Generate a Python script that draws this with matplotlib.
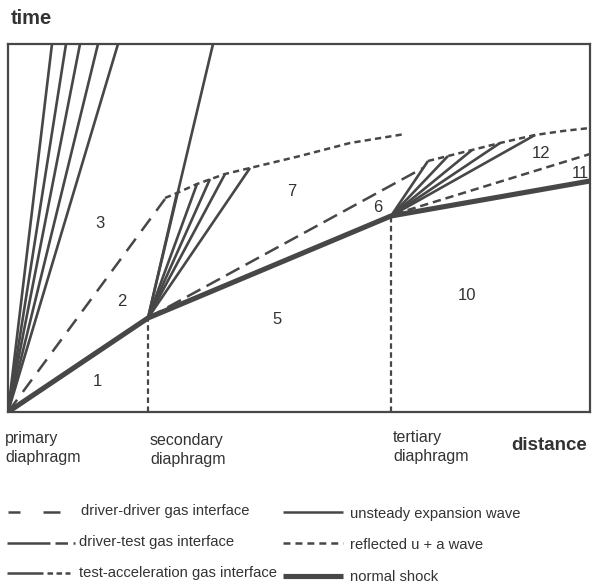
import matplotlib
matplotlib.use("Agg")
import matplotlib.pyplot as plt
from matplotlib.lines import Line2D

plt.rcParams['font.family'] = ['Liberation Sans', 'DejaVu Sans']
plt.rcParams['lines.scale_dashes'] = False

INK = '#474747'
TXT = '#333333'

# x-t diagram in arbitrary units: distance along the tube, time after primary rupture
box_x = 582
box_t = 368

secondary_x = 140
tertiary_x = 383

# normal shock path through the three diaphragms
shock_x = [0, 140, 383, 582]
shock_t = [0, 94, 196, 231]

# primary expansion fan, characteristics running out through the top
fan1_top_x = [44, 58, 72, 90, 110]

# driver-driver gas interface
dd_x = [0, 157]
dd_t = [0, 213]

# head of the secondary expansion, runs out through the top
head2_x = [140, 205]
head2_t = [94, 368]

# secondary expansion fan ends (on the reflected u+a wave)
fan2_end_x = [169, 189, 202, 217, 242]
fan2_end_t = [219, 228, 233, 238, 244]

# reflected u+a waves
refl1_x = [157, 169, 189, 217, 242, 292, 342, 397]
refl1_t = [214, 219, 228, 238, 244, 256, 269, 278]
refl2_x = [420, 440, 464, 492, 527, 555, 582]
refl2_t = [251, 256, 262, 269, 277, 281, 284]

# driver-test gas interface (from secondary diaphragm)
dt_x = [140, 415]
dt_t = [94, 244]

# tertiary expansion fan ends
fan3_end_x = [420, 440, 464, 492, 527]
fan3_end_t = [251, 256, 262, 269, 277]

# test-acceleration gas interface (from tertiary diaphragm)
ta_x = [387, 582]
ta_t = [198, 258]

region_names = ['1', '2', '3', '5', '6', '7', '10', '11', '12']
region_x = [89, 114, 92, 269, 370, 284, 459, 572, 533]
region_t = [31, 111, 189, 92, 204, 221, 117, 239, 258]

fig = plt.figure(figsize=(5.93, 5.85), dpi=100)
ax = fig.add_axes([8 / 593, 173 / 585, 582 / 593, 368 / 585])
ax.set_xlim(0, box_x)
ax.set_ylim(0, box_t)
ax.set_xticks([])
ax.set_yticks([])
for sp in ax.spines.values():
    sp.set_color(INK)
    sp.set_linewidth(1.6)

fan_kw = dict(color=INK, lw=1.9, solid_capstyle='butt')
dash_lw = 1.8

# primary fan
for xt in fan1_top_x:
    ax.plot([0, xt], [0, box_t], **fan_kw)

ax.plot(dd_x, dd_t, color=INK, lw=dash_lw, dashes=(11, 7))

# secondary fan
ax.plot(head2_x, head2_t, **fan_kw)
for xe, te in zip(fan2_end_x, fan2_end_t):
    ax.plot([shock_x[1], xe], [shock_t[1], te], **fan_kw)
ax.plot(refl1_x, refl1_t, color=INK, lw=dash_lw, dashes=(4.5, 3))
ax.plot(dt_x, dt_t, color=INK, lw=dash_lw, dashes=(11, 5))

# tertiary fan
for xe, te in zip(fan3_end_x, fan3_end_t):
    ax.plot([shock_x[2], xe], [shock_t[2], te], **fan_kw)
ax.plot(refl2_x, refl2_t, color=INK, lw=dash_lw, dashes=(4.5, 3))
ax.plot(ta_x, ta_t, color=INK, lw=dash_lw, dashes=(6, 3.5))

# diaphragm stations
ax.plot([secondary_x, secondary_x], [0, shock_t[1]], color=INK, lw=1.6, dashes=(4, 2.5))
ax.plot([tertiary_x, tertiary_x], [0, shock_t[2]], color=INK, lw=1.6, dashes=(4, 2.5))

ax.plot(shock_x, shock_t, color=INK, lw=3.7, solid_capstyle='butt', solid_joinstyle='round')

for name, xr, tr in zip(region_names, region_x, region_t):
    ax.text(xr, tr, name, fontsize=12, color=TXT, ha='center', va='center')

# overlay in pixel units for captions and the key
ov = fig.add_axes([0, 0, 1, 1])
ov.set_xlim(0, 593)
ov.set_ylim(585, 0)
ov.axis('off')

ov.text(11, 18, 'time', fontsize=14.5, fontweight='bold', color=TXT, va='center')
ov.text(511, 445, 'distance', fontsize=13.5, fontweight='bold', color=TXT, va='center')
lab_kw = dict(fontsize=11.5, color=TXT, va='top', linespacing=1.3)
ov.text(5, 431, 'primary\ndiaphragm', **lab_kw)
ov.text(150, 433, 'secondary\ndiaphragm', **lab_kw)
ov.text(393, 430, 'tertiary\ndiaphragm', **lab_kw)

key_kw = dict(color=INK, lw=1.8, solid_capstyle='butt')
ov.add_line(Line2D([8, 20], [512, 512], **key_kw))
ov.add_line(Line2D([43, 60], [512, 512], **key_kw))
ov.add_line(Line2D([7, 50], [543, 543], **key_kw))
ov.add_line(Line2D([55, 75], [543, 543], dashes=(9, 4, 1.5, 4), **key_kw))
ov.add_line(Line2D([7, 43], [573, 573], **key_kw))
ov.add_line(Line2D([47, 70], [573, 573], dashes=(4, 2.5), **key_kw))
ov.add_line(Line2D([283, 343], [512, 512], **key_kw))
ov.add_line(Line2D([283, 343], [543, 543], dashes=(5, 3.6), **key_kw))
ov.add_line(Line2D([283, 343], [576, 576], color=INK, lw=3.7, solid_capstyle='butt'))

key_txt = dict(fontsize=10.6, color=TXT, va='center')
ov.text(81, 511, 'driver-driver gas interface', **key_txt)
ov.text(79, 542, 'driver-test gas interface', **key_txt)
ov.text(79, 573, 'test-acceleration gas interface', **key_txt)
ov.text(350, 514, 'unsteady expansion wave', **key_txt)
ov.text(350, 545, 'reflected u + a wave', **key_txt)
ov.text(350, 577, 'normal shock', **key_txt)

fig.savefig('out.png', dpi=100, facecolor='white')
